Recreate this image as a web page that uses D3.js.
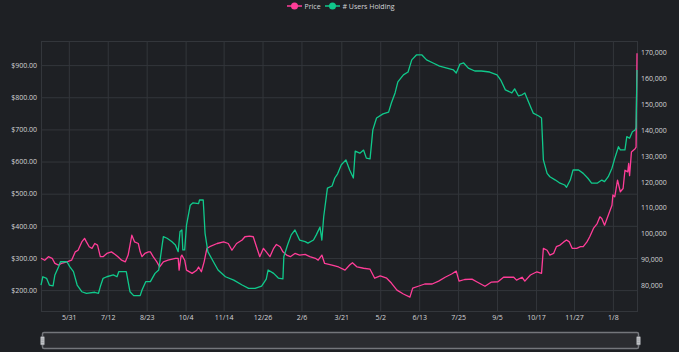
<!DOCTYPE html>
<html>
<head>
<meta charset="utf-8">
<script src="https://cdnjs.cloudflare.com/ajax/libs/d3/7.8.5/d3.min.js"></script>
<style>
  html, body { margin: 0; padding: 0; background: #1e2024; }
  svg { display: block; font-family: "Open Sans", sans-serif; }
</style>
</head>
<body>
<svg id="chart" width="679" height="352"></svg>
<script>
var seriesNames = ["Price", "# Users Holding"];

var priceData = [
  ["2020-05-01",299],["2020-05-05",293],["2020-05-09",304],["2020-05-13",299],["2020-05-16",283],
  ["2020-05-20",278],["2020-05-23",283],["2020-05-29",288],["2020-06-03",293],["2020-06-07",319],
  ["2020-06-10",324],["2020-06-14",350],["2020-06-17",361],["2020-06-19",350],["2020-06-22",335],
  ["2020-06-25",330],["2020-06-28",345],["2020-07-01",340],["2020-07-04",304],["2020-07-07",304],
  ["2020-07-11",314],["2020-07-16",319],["2020-07-20",311],["2020-07-23",304],["2020-07-27",293],
  ["2020-07-31",288],["2020-08-03",309],["2020-08-07",371],["2020-08-10",350],["2020-08-14",345],
  ["2020-08-16",319],["2020-08-18",304],["2020-08-21",314],["2020-08-25",319],["2020-08-27",319],
  ["2020-08-30",304],["2020-09-03",288],["2020-09-06",272],["2020-09-10",288],["2020-09-15",293],
  ["2020-09-23",299],["2020-09-26",299],["2020-09-27",262],["2020-09-29",304],["2020-09-30",309],
  ["2020-10-03",293],["2020-10-05",262],["2020-10-11",252],["2020-10-16",262],["2020-10-18",272],
  ["2020-10-21",257],["2020-10-24",288],["2020-10-27",330],["2020-10-30",335],["2020-11-07",345],
  ["2020-11-14",350],["2020-11-19",345],["2020-11-23",324],["2020-11-28",345],["2020-12-04",356],
  ["2020-12-07",366],["2020-12-12",368],["2020-12-16",366],["2020-12-20",330],["2020-12-23",304],
  ["2020-12-27",330],["2020-12-30",319],["2021-01-03",304],["2021-01-07",330],["2021-01-10",342],
  ["2021-01-14",335],["2021-01-17",319],["2021-01-21",309],["2021-01-25",304],["2021-01-30",314],
  ["2021-02-04",309],["2021-02-10",311],["2021-02-15",304],["2021-02-21",299],["2021-02-24",293],
  ["2021-02-28",309],["2021-03-03",283],["2021-03-11",278],["2021-03-18",272],["2021-03-25",262],
  ["2021-03-30",278],["2021-04-02",285],["2021-04-07",272],["2021-04-14",268],["2021-04-21",265],
  ["2021-04-26",237],["2021-05-02",244],["2021-05-09",237],["2021-05-14",222],["2021-05-20",200],
  ["2021-05-27",188],["2021-06-03",178],["2021-06-06",206],["2021-06-12",212],["2021-06-19",219],
  ["2021-06-27",219],["2021-07-04",228],["2021-07-11",240],["2021-07-18",250],["2021-07-23",259],
  ["2021-07-26",228],["2021-08-01",233],["2021-08-09",234],["2021-08-14",226],["2021-08-23",212],
  ["2021-08-30",225],["2021-09-06",226],["2021-09-12",240],["2021-09-23",240],["2021-09-26",231],
  ["2021-10-02",240],["2021-10-05",228],["2021-10-11",247],["2021-10-18",257],["2021-10-23",252],
  ["2021-10-25",330],["2021-10-29",324],["2021-11-01",309],["2021-11-05",314],["2021-11-08",335],
  ["2021-11-12",340],["2021-11-16",350],["2021-11-19",356],["2021-11-22",350],["2021-11-25",330],
  ["2021-11-30",330],["2021-12-04",335],["2021-12-07",335],["2021-12-11",350],["2021-12-14",366],
  ["2021-12-18",392],["2021-12-22",407],["2021-12-25",428],["2021-12-27",423],["2021-12-30",402],
  ["2022-01-03",433],["2022-01-07",464],["2022-01-08",496],["2022-01-10",490],["2022-01-13",542],
  ["2022-01-16",506],["2022-01-19",516],["2022-01-21",573],["2022-01-24",568],["2022-01-25",594],
  ["2022-01-26",556],["2022-01-28",630],["2022-02-01",640],["2022-02-02",645],["2022-02-03",937]
];

var usersData = [
  ["2020-05-01",80100],["2020-05-03",83300],["2020-05-07",82700],["2020-05-10",80100],["2020-05-14",79800],
  ["2020-05-16",84000],["2020-05-20",87200],["2020-05-22",89100],["2020-05-29",89100],["2020-06-01",87200],
  ["2020-06-05",85300],["2020-06-09",80100],["2020-06-14",77500],["2020-06-19",76900],["2020-06-28",77300],
  ["2020-07-02",76900],["2020-07-04",79500],["2020-07-07",82700],["2020-07-11",83300],["2020-07-18",84000],
  ["2020-07-22",83300],["2020-07-24",85300],["2020-08-01",85300],["2020-08-05",77500],["2020-08-09",76000],
  ["2020-08-16",76000],["2020-08-18",78200],["2020-08-22",81400],["2020-08-27",81400],["2020-09-01",84600],
  ["2020-09-05",85900],["2020-09-08",93700],["2020-09-10",98800],["2020-09-14",98200],["2020-09-19",96900],
  ["2020-09-23",95600],["2020-09-26",93000],["2020-09-28",100800],["2020-09-30",101400],["2020-10-01",93700],
  ["2020-10-03",93700],["2020-10-05",103300],["2020-10-09",111000],["2020-10-12",111900],["2020-10-18",111600],
  ["2020-10-19",113000],["2020-10-23",113000],["2020-10-25",100100],["2020-10-28",93000],["2020-11-03",89100],
  ["2020-11-08",85900],["2020-11-16",83300],["2020-11-25",82000],["2020-12-04",80100],["2020-12-11",78800],
  ["2020-12-18",78800],["2020-12-25",79700],["2020-12-30",82400],["2021-01-01",85900],["2021-01-07",84600],
  ["2021-01-12",82800],["2021-01-17",82500],["2021-01-18",91100],["2021-01-22",95600],["2021-01-26",99500],
  ["2021-01-30",101400],["2021-02-04",97500],["2021-02-10",96900],["2021-02-13",96300],["2021-02-19",97500],
  ["2021-02-22",99500],["2021-02-26",102500],["2021-02-28",97500],["2021-03-02",106500],["2021-03-06",117600],
  ["2021-03-11",118400],["2021-03-14",121500],["2021-03-17",123100],["2021-03-21",126600],["2021-03-26",128500],
  ["2021-03-30",124600],["2021-04-03",121500],["2021-04-05",131900],["2021-04-10",131100],["2021-04-14",132300],
  ["2021-04-17",129200],["2021-04-21",128900],["2021-04-24",140100],["2021-04-28",144700],["2021-05-05",146300],
  ["2021-05-11",147000],["2021-05-14",150500],["2021-05-18",154400],["2021-05-21",158700],["2021-05-27",161400],
  ["2021-06-01",162500],["2021-06-05",167200],["2021-06-10",169100],["2021-06-16",169100],["2021-06-21",167200],
  ["2021-06-28",166000],["2021-07-05",164800],["2021-07-13",164000],["2021-07-20",163300],["2021-07-23",162100],
  ["2021-07-27",165600],["2021-07-31",166000],["2021-08-05",164000],["2021-08-12",162900],["2021-08-19",162900],
  ["2021-08-28",162500],["2021-09-05",161400],["2021-09-09",159400],["2021-09-14",155600],["2021-09-21",154400],
  ["2021-09-24",156000],["2021-09-28",153300],["2021-10-02",153700],["2021-10-05",154400],["2021-10-09",150900],
  ["2021-10-14",146600],["2021-10-20",145500],["2021-10-23",144700],["2021-10-25",128500],["2021-10-29",123300],
  ["2021-11-01",122000],["2021-11-07",120700],["2021-11-12",119500],["2021-11-17",118800],["2021-11-19",117900],
  ["2021-11-23",120700],["2021-11-26",124600],["2021-12-02",124600],["2021-12-07",123300],["2021-12-12",121400],
  ["2021-12-16",119500],["2021-12-22",119500],["2021-12-27",120700],["2021-12-30",120100],["2022-01-03",122000],
  ["2022-01-07",125300],["2022-01-10",129100],["2022-01-14",133600],["2022-01-16",132400],["2022-01-21",132400],
  ["2022-01-23",137500],["2022-01-26",136900],["2022-01-29",139400],["2022-02-01",140100],["2022-02-02",140900],
  ["2022-02-03",163300]
];

var dateTicks = ["2020-05-31","2020-07-12","2020-08-23","2020-10-04","2020-11-14","2020-12-26",
  "2021-02-06","2021-03-21","2021-05-02","2021-06-13","2021-07-25","2021-09-05","2021-10-17",
  "2021-11-27","2022-01-08"];
var priceTicks = [200, 300, 400, 500, 600, 700, 800, 900];
var usersTicks = [80000, 90000, 100000, 110000, 120000, 130000, 140000, 150000, 160000, 170000];

var colors = ["#ff3d98", "#10c98b"];
var textColor = "#d4d5d7";
var gridColor = "#33363b";

var plotLeft = 41, plotRight = 637, plotTop = 41, plotBottom = 311;
var parseDate = d3.timeParse("%Y-%m-%d");

var svg = d3.select("#chart");
svg.append("rect").attr("width", 679).attr("height", 352).attr("fill", "#1e2024");

var x = d3.scaleTime()
  .domain([parseDate("2020-05-01"), parseDate("2022-02-03")])
  .range([plotLeft, plotRight]);
var yPrice = d3.scaleLinear().domain([135, 975]).range([plotBottom, plotTop]);
var yUsers = d3.scaleLinear().domain([70050, 174500]).range([plotBottom, plotTop]);

// grid frame
svg.append("rect")
  .attr("x", plotLeft + 0.5).attr("y", plotTop + 0.5)
  .attr("width", plotRight - plotLeft).attr("height", plotBottom - plotTop)
  .attr("fill", "none").attr("stroke", gridColor);

var xAxis = svg.append("g")
  .attr("transform", "translate(0," + plotBottom + ")")
  .call(d3.axisBottom(x)
    .tickValues(dateTicks.map(parseDate))
    .tickFormat(d3.timeFormat("%-m/%-d"))
    .tickSize(-(plotBottom - plotTop))
    .tickPadding(4));

var yAxisL = svg.append("g")
  .attr("transform", "translate(" + plotLeft + ",0)")
  .call(d3.axisLeft(yPrice)
    .tickValues(priceTicks)
    .tickFormat(function(d){ return "$" + d3.format(",.2f")(d); })
    .tickSize(-(plotRight - plotLeft))
    .tickPadding(4));

var yAxisR = svg.append("g")
  .attr("transform", "translate(" + plotRight + ",0)")
  .call(d3.axisRight(yUsers)
    .tickValues(usersTicks)
    .tickFormat(d3.format(","))
    .tickSize(0)
    .tickPadding(4));

[xAxis, yAxisL, yAxisR].forEach(function(g){
  g.select(".domain").remove();
  g.selectAll(".tick line").attr("stroke", gridColor);
  g.selectAll(".tick text").attr("fill", textColor).style("font-size", "7px")
    .style("font-family", "'Open Sans', sans-serif");
});

// lines
var priceLine = d3.line()
  .x(function(d){ return x(parseDate(d[0])); })
  .y(function(d){ return yPrice(d[1]); });
var usersLine = d3.line()
  .x(function(d){ return x(parseDate(d[0])); })
  .y(function(d){ return yUsers(d[1]); });

svg.append("path").datum(priceData)
  .attr("d", priceLine)
  .attr("fill", "none").attr("stroke", colors[0])
  .attr("stroke-width", 1.3).attr("stroke-linejoin", "round");

svg.append("path").datum(usersData)
  .attr("d", usersLine)
  .attr("fill", "none").attr("stroke", colors[1])
  .attr("stroke-width", 1.3).attr("stroke-linejoin", "round");

// legend
var legendX = [287, 325];
var legend = svg.selectAll(".legend")
  .data(seriesNames)
  .enter().append("g")
  .attr("class", "legend")
  .attr("transform", function(d, i){ return "translate(" + legendX[i] + ",6)"; });
legend.append("line")
  .attr("x1", 0).attr("x2", 15).attr("y1", 0).attr("y2", 0)
  .attr("stroke", function(d, i){ return colors[i]; }).attr("stroke-width", 1.5);
legend.append("circle")
  .attr("cx", 7.5).attr("cy", 0).attr("r", 3.5)
  .attr("fill", function(d, i){ return colors[i]; });
legend.append("text")
  .attr("x", 17.5).attr("y", 2.5)
  .attr("fill", textColor).style("font-size", "7px")
  .text(function(d){ return d; });

// data zoom slider
var slider = svg.append("g");
slider.append("rect")
  .attr("x", 42.5).attr("y", 332.5).attr("width", 596).attr("height", 16)
  .attr("rx", 1.5)
  .attr("fill", "#2b2c30").attr("stroke", "#74767b").attr("stroke-width", 1.5);
[42.5, 638.5].forEach(function(hx){
  slider.append("rect")
    .attr("x", hx - 2).attr("y", 336.5).attr("width", 4).attr("height", 8.5)
    .attr("rx", 1).attr("fill", "#c4c6ca").attr("stroke", "#6e7075").attr("stroke-width", 0.6);
  [339, 340.8, 342.6].forEach(function(ly){
    slider.append("line")
      .attr("x1", hx - 1.2).attr("x2", hx + 1.2).attr("y1", ly).attr("y2", ly)
      .attr("stroke", "#7a7c80").attr("stroke-width", 0.5);
  });
});
</script>
</body>
</html>
